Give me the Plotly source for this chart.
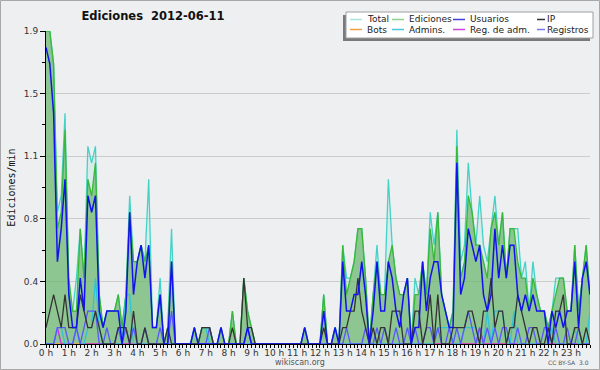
import plotly.graph_objects as go

# ---------------- data (edits per minute, 10-minute buckets, 2012-06-11) ----------------
hour_labels_suffix = " h"
total = [
    1.9, 1.9, 1.7, 0.8, 0.9, 1.4, 0.3, 0.2, 0.4, 0.7, 0.4, 1.2,
    1.1, 1.2, 0.3, 0.1, 0.2, 0.2, 0.2, 0.3, 0.1, 0.3, 0.9, 0.5,
    0.5, 0.6, 0.5, 1.0, 0.1, 0.1, 0.4, 0.0, 0.1, 0.7, 0.0, 0.0,
    0.0, 0.0, 0.0, 0.1, 0.0, 0.1, 0.1, 0.1, 0.0, 0.0, 0.1, 0.0,
    0.0, 0.2, 0.0, 0.0, 0.4, 0.2, 0.1, 0.0, 0.0, 0.0, 0.0, 0.0,
    0.0, 0.0, 0.0, 0.0, 0.0, 0.0, 0.0, 0.0, 0.1, 0.0, 0.0, 0.0,
    0.0, 0.3, 0.0, 0.0, 0.1, 0.0, 0.6, 0.4, 0.4, 0.5, 0.7, 0.7,
    0.4, 0.0, 0.3, 0.6, 0.3, 0.3, 1.0, 0.6, 0.4, 0.3, 0.3, 0.4,
    0.0, 0.4, 0.3, 0.5, 0.3, 0.8, 0.6, 0.8, 0.3, 0.2, 0.1, 0.2,
    1.3, 0.5, 0.6, 1.1, 0.8, 0.6, 0.9, 0.6, 0.5, 0.7, 0.9, 0.6,
    0.8, 0.4, 0.7, 0.7, 0.7, 0.4, 0.5, 0.2, 0.5, 0.3, 0.2, 0.2,
    0.1, 0.2, 0.4, 0.4, 0.4, 0.2, 0.2, 0.6, 0.2, 0.4, 0.6, 0.2,
]
ediciones = [
    1.9, 1.9, 1.7, 0.7, 0.8, 1.3, 0.4, 0.2, 0.2, 0.7, 0.4, 1.0,
    0.9, 1.1, 0.3, 0.1, 0.2, 0.2, 0.2, 0.3, 0.1, 0.3, 0.8, 0.5,
    0.5, 0.6, 0.5, 0.6, 0.1, 0.1, 0.3, 0.0, 0.1, 0.5, 0.0, 0.0,
    0.0, 0.0, 0.0, 0.1, 0.0, 0.1, 0.1, 0.1, 0.0, 0.0, 0.1, 0.0,
    0.0, 0.2, 0.0, 0.0, 0.4, 0.2, 0.1, 0.0, 0.0, 0.0, 0.0, 0.0,
    0.0, 0.0, 0.0, 0.0, 0.0, 0.0, 0.0, 0.0, 0.1, 0.0, 0.0, 0.0,
    0.0, 0.3, 0.0, 0.0, 0.1, 0.0, 0.6, 0.3, 0.4, 0.5, 0.7, 0.7,
    0.4, 0.0, 0.3, 0.5, 0.3, 0.3, 0.5, 0.6, 0.4, 0.3, 0.3, 0.4,
    0.0, 0.3, 0.3, 0.5, 0.3, 0.7, 0.5, 0.8, 0.3, 0.2, 0.1, 0.2,
    1.2, 0.4, 0.5, 0.9, 0.8, 0.6, 0.6, 0.5, 0.4, 0.7, 0.8, 0.6,
    0.8, 0.4, 0.7, 0.7, 0.5, 0.4, 0.4, 0.2, 0.4, 0.3, 0.2, 0.2,
    0.1, 0.2, 0.3, 0.4, 0.4, 0.2, 0.2, 0.6, 0.2, 0.4, 0.6, 0.3,
]
usuarios = [
    1.8, 1.7, 1.4, 0.5, 0.7, 1.0, 0.3, 0.1, 0.1, 0.4, 0.2, 0.9,
    0.8, 0.9, 0.2, 0.1, 0.2, 0.2, 0.2, 0.2, 0.0, 0.2, 0.8, 0.3,
    0.5, 0.6, 0.4, 0.6, 0.1, 0.1, 0.3, 0.0, 0.0, 0.5, 0.0, 0.0,
    0.0, 0.0, 0.0, 0.1, 0.0, 0.0, 0.0, 0.0, 0.0, 0.0, 0.1, 0.0,
    0.0, 0.0, 0.0, 0.0, 0.0, 0.1, 0.0, 0.0, 0.0, 0.0, 0.0, 0.0,
    0.0, 0.0, 0.0, 0.0, 0.0, 0.0, 0.0, 0.0, 0.1, 0.0, 0.0, 0.0,
    0.0, 0.2, 0.0, 0.0, 0.1, 0.0, 0.5, 0.2, 0.2, 0.3, 0.3, 0.5,
    0.3, 0.0, 0.2, 0.5, 0.2, 0.2, 0.5, 0.4, 0.2, 0.1, 0.3, 0.4,
    0.0, 0.1, 0.1, 0.5, 0.2, 0.4, 0.5, 0.5, 0.3, 0.2, 0.1, 0.1,
    1.1, 0.3, 0.4, 0.7, 0.6, 0.5, 0.6, 0.3, 0.2, 0.3, 0.7, 0.4,
    0.6, 0.4, 0.6, 0.6, 0.3, 0.2, 0.3, 0.2, 0.3, 0.2, 0.2, 0.2,
    0.0, 0.2, 0.1, 0.2, 0.1, 0.2, 0.2, 0.5, 0.1, 0.4, 0.5, 0.3,
]
ip = [
    0.1, 0.2, 0.3, 0.2, 0.1, 0.3, 0.1, 0.1, 0.1, 0.3, 0.2, 0.1,
    0.1, 0.2, 0.1, 0.0, 0.0, 0.0, 0.0, 0.1, 0.1, 0.1, 0.0, 0.2,
    0.0, 0.0, 0.1, 0.0, 0.0, 0.0, 0.0, 0.0, 0.1, 0.0, 0.0, 0.0,
    0.0, 0.0, 0.0, 0.0, 0.0, 0.1, 0.1, 0.1, 0.0, 0.0, 0.0, 0.0,
    0.0, 0.1, 0.0, 0.0, 0.4, 0.1, 0.1, 0.0, 0.0, 0.0, 0.0, 0.0,
    0.0, 0.0, 0.0, 0.0, 0.0, 0.0, 0.0, 0.0, 0.0, 0.0, 0.0, 0.0,
    0.0, 0.1, 0.0, 0.0, 0.0, 0.0, 0.1, 0.1, 0.2, 0.2, 0.4, 0.2,
    0.1, 0.0, 0.1, 0.0, 0.1, 0.1, 0.0, 0.2, 0.2, 0.2, 0.0, 0.0,
    0.0, 0.2, 0.2, 0.0, 0.1, 0.3, 0.0, 0.3, 0.0, 0.0, 0.0, 0.1,
    0.1, 0.1, 0.1, 0.2, 0.2, 0.1, 0.0, 0.2, 0.2, 0.4, 0.1, 0.2,
    0.2, 0.0, 0.1, 0.1, 0.3, 0.2, 0.1, 0.0, 0.1, 0.1, 0.0, 0.0,
    0.1, 0.0, 0.2, 0.2, 0.3, 0.0, 0.0, 0.1, 0.1, 0.0, 0.1, 0.0,
]
bots = [0.0] * 144
admins = [
    0.0, 0.0, 0.0, 0.1, 0.1, 0.0, 0.0, 0.0, 0.1, 0.0, 0.0, 0.1,
    0.1, 0.4, 0.1, 0.0, 0.0, 0.0, 0.0, 0.0, 0.0, 0.3, 0.3, 0.0,
    0.0, 0.0, 0.0, 0.0, 0.0, 0.0, 0.0, 0.0, 0.0, 0.0, 0.0, 0.0,
    0.0, 0.0, 0.0, 0.0, 0.0, 0.1, 0.1, 0.0, 0.0, 0.0, 0.0, 0.0,
    0.0, 0.0, 0.0, 0.0, 0.0, 0.0, 0.0, 0.0, 0.0, 0.0, 0.0, 0.0,
    0.0, 0.0, 0.0, 0.0, 0.0, 0.0, 0.0, 0.0, 0.0, 0.0, 0.0, 0.0,
    0.0, 0.0, 0.0, 0.0, 0.0, 0.0, 0.0, 0.0, 0.0, 0.0, 0.0, 0.0,
    0.0, 0.0, 0.0, 0.0, 0.0, 0.0, 0.0, 0.0, 0.0, 0.0, 0.0, 0.0,
    0.0, 0.0, 0.0, 0.0, 0.0, 0.0, 0.0, 0.1, 0.1, 0.1, 0.1, 0.0,
    0.0, 0.0, 0.1, 0.1, 0.1, 0.1, 0.0, 0.0, 0.2, 0.0, 0.2, 0.2,
    0.2, 0.0, 0.0, 0.2, 0.0, 0.0, 0.0, 0.0, 0.0, 0.0, 0.0, 0.0,
    0.0, 0.1, 0.0, 0.0, 0.0, 0.0, 0.0, 0.1, 0.0, 0.0, 0.0, 0.2,
]
reg_adm = [0.0] * 144
reg_adm_points = {3: 0.1, 8: 0.1, 114: 0.1}
registros = [
    0.0, 0.0, 0.0, 0.1, 0.1, 0.1, 0.0, 0.0, 0.1, 0.0, 0.1, 0.2,
    0.2, 0.2, 0.0, 0.0, 0.1, 0.0, 0.0, 0.1, 0.0, 0.1, 0.0, 0.1,
    0.0, 0.0, 0.1, 0.0, 0.0, 0.0, 0.1, 0.0, 0.0, 0.2, 0.0, 0.0,
    0.0, 0.0, 0.0, 0.0, 0.0, 0.0, 0.0, 0.1, 0.0, 0.0, 0.0, 0.0,
    0.0, 0.0, 0.0, 0.0, 0.0, 0.1, 0.0, 0.0, 0.0, 0.0, 0.0, 0.0,
    0.0, 0.0, 0.0, 0.0, 0.0, 0.0, 0.0, 0.0, 0.0, 0.0, 0.0, 0.0,
    0.0, 0.0, 0.0, 0.0, 0.0, 0.0, 0.0, 0.1, 0.0, 0.0, 0.0, 0.0,
    0.1, 0.0, 0.0, 0.1, 0.0, 0.1, 0.0, 0.0, 0.1, 0.0, 0.0, 0.1,
    0.0, 0.1, 0.0, 0.0, 0.1, 0.1, 0.0, 0.1, 0.0, 0.0, 0.1, 0.0,
    0.1, 0.0, 0.1, 0.2, 0.1, 0.0, 0.1, 0.0, 0.1, 0.0, 0.1, 0.0,
    0.1, 0.1, 0.0, 0.0, 0.1, 0.0, 0.0, 0.1, 0.1, 0.0, 0.0, 0.1,
    0.1, 0.0, 0.1, 0.0, 0.0, 0.1, 0.0, 0.0, 0.1, 0.0, 0.0, 0.0,
]
for k, v in reg_adm_points.items():
    reg_adm[k] = v

time_hours = [i / 6 for i in range(len(total))]  # bucket start, in hours

y_tick_values = [0.0, 0.38, 0.76, 1.14, 1.52, 1.9]
y_tick_labels = ["0.0", "0.4", "0.8", "1.1", "1.5", "1.9"]

legend_rows = [["Total", "Ediciones", "Usuarios", "IP"],
               ["Bots", "Admins.", "Reg. de adm.", "Registros"]]

# ---------------- styling ----------------
W, H = 600, 370
ML, MR, MT, MB = 46, 10, 31, 26
PW, PH = W - ML - MR, H - MT - MB
BG = "#eeeff1"


def px(x):
    return (x - ML) / PW


def py(y):
    return (H - MB - y) / PH


series = {
    "Total": total, "Ediciones": ediciones, "Usuarios": usuarios, "IP": ip,
    "Bots": bots, "Admins.": admins, "Reg. de adm.": reg_adm, "Registros": registros,
}
line_colors = {
    "Total": "#44d2c6", "Ediciones": "#38b838", "Usuarios": "#1212ee", "IP": "#333333",
    "Bots": "#f0a040", "Admins.": "#2ec4d8", "Reg. de adm.": "#cc33dd", "Registros": "#5858ff",
}
swatch_colors = {
    "Total": "#a6e4dc", "Ediciones": "#8ed08e", "Usuarios": "#4040dd", "IP": "#333333",
    "Bots": "#f0a040", "Admins.": "#48c8e0", "Reg. de adm.": "#cc44dd", "Registros": "#7777ee",
}
fills = {"Total": "rgba(80,215,205,0.13)", "Ediciones": "rgba(112,183,111,0.72)"}
draw_order = ["Total", "Ediciones", "Bots", "Reg. de adm.", "Admins.", "Registros", "IP", "Usuarios"]

fig = go.Figure()
for name in draw_order:
    kw = {}
    if name in fills:
        kw = dict(fill="tozeroy", fillcolor=fills[name])
    fig.add_trace(go.Scatter(
        x=time_hours, y=series[name], name=name, mode="lines",
        line=dict(color=line_colors[name], width=1.3 if name != "Usuarios" else 1.5),
        hoverinfo="skip", **kw))

tick_font = dict(family="DejaVu Sans", size=9, color="#333333")

fig.update_layout(
    width=W, height=H, margin=dict(l=ML, r=MR, t=MT, b=MB),
    paper_bgcolor=BG, plot_bgcolor=BG, showlegend=False,
    title=dict(text="<b>Ediciones\u00a0 2012-06-11</b>", x=153 / W, xanchor="center",
               y=1 - 16 / H, yanchor="middle", xref="container", yref="container",
               font=dict(family="DejaVu Sans", size=11.5, color="#111111")),
    xaxis=dict(range=[0, time_hours[-1]], tickmode="linear", tick0=0, dtick=1,
               ticksuffix=hour_labels_suffix, ticks="outside", ticklen=3, tickcolor="black",
               showline=True, linecolor="black", linewidth=1, showgrid=False, zeroline=False,
               layer="above traces", tickfont=tick_font, automargin=False,
               ticklabelstandoff=-3,
               minor=dict(tick0=0, dtick=1 / 6, ticks="outside", ticklen=3,
                          tickcolor="black", showgrid=False)),
    yaxis=dict(range=[0, 1.9], tickmode="array", tickvals=y_tick_values, ticktext=y_tick_labels,
               ticks="outside", ticklen=5, tickcolor="black", showline=True, linecolor="black",
               linewidth=1, showgrid=True, gridcolor="#cccccc", gridwidth=1, zeroline=False,
               layer="above traces", tickfont=tick_font, automargin=False,
               minor=dict(tickmode="linear", tick0=0, dtick=0.19, ticks="outside", ticklen=3,
                          tickcolor="black", showgrid=False),
               title=dict(text="Ediciones/min", standoff=6,
                          font=dict(family="DejaVu Sans Mono", size=10, color="#111111"))),
)

shapes = []
annotations = []
# figure border
shapes.append(dict(type="rect", xref="paper", yref="paper", x0=px(0.5), x1=px(W - 0.5),
                   y0=py(H - 0.5), y1=py(0.5), line=dict(color="#a8a8a8", width=1),
                   fillcolor="rgba(0,0,0,0)", layer="above"))
# legend shadow + box
shapes.append(dict(type="rect", xref="paper", yref="paper", x0=px(343), x1=px(590),
                   y0=py(41), y1=py(15), line=dict(width=0), fillcolor="#7a7a7a", layer="above"))
shapes.append(dict(type="rect", xref="paper", yref="paper", x0=px(346), x1=px(593),
                   y0=py(38), y1=py(12), line=dict(color="#a0a0a0", width=1),
                   fillcolor="#ffffff", layer="above"))
col_swatch_x = [350, 392, 453, 537]
col_swatch_w = [12, 12, 12, 8]
col_text_x = [365, 407, 468, 545]
row_y = [19.5, 29.5]
for r, row in enumerate(legend_rows):
    for c, name in enumerate(row):
        shapes.append(dict(type="line", xref="paper", yref="paper",
                           x0=px(col_swatch_x[c]), x1=px(col_swatch_x[c] + col_swatch_w[c]),
                           y0=py(row_y[r]), y1=py(row_y[r]),
                           line=dict(color=swatch_colors[name], width=1.5), layer="above"))
        annotations.append(dict(text=name, xref="paper", yref="paper", x=px(col_text_x[c]),
                                y=py(row_y[r]), xanchor="left", yanchor="middle", showarrow=False,
                                font=dict(family="DejaVu Sans", size=9, color="#222222")))

annotations.append(dict(text="wikiscan.org", xref="paper", yref="paper", x=px(300), y=py(362),
                        xanchor="center", yanchor="middle", showarrow=False,
                        font=dict(family="DejaVu Sans", size=8, color="#555555")))
annotations.append(dict(text="CC BY-SA  3.0", xref="paper", yref="paper", x=px(591), y=py(362),
                        xanchor="right", yanchor="middle", showarrow=False,
                        font=dict(family="DejaVu Sans", size=6, color="#555555")))

fig.update_layout(shapes=shapes, annotations=annotations)
fig.write_html("out.html", config={"displayModeBar": False},
               post_script="document.body.style.margin='0';")
